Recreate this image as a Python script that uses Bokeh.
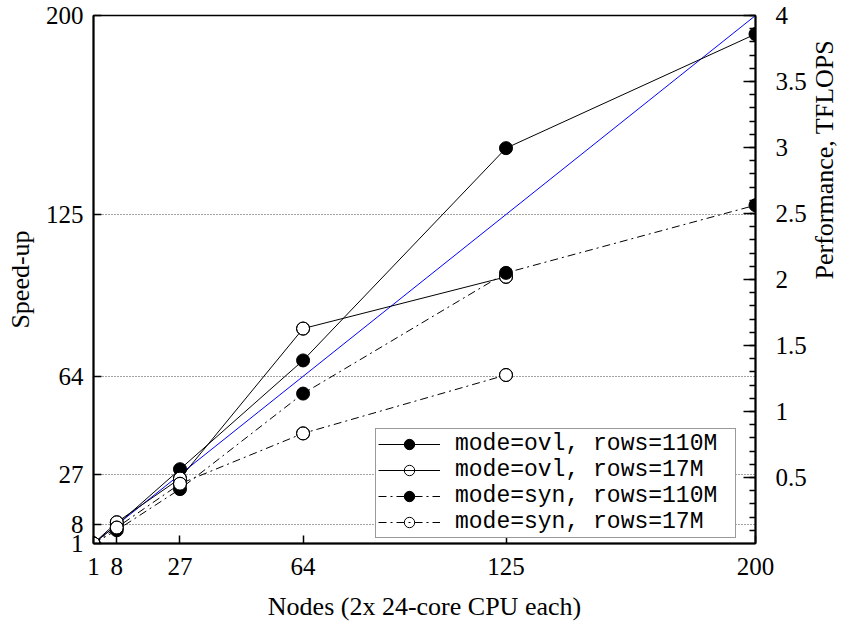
import math
from bokeh.plotting import figure
from bokeh.models import Range1d, LinearAxis, FixedTicker, Legend, LegendItem
from bokeh.embed import file_html
from bokeh.resources import INLINE

# ---- data ----
nodes = [1, 8, 27, 64, 125, 200]
ovl_110m = [1, 8, 29, 70, 150, 193]
nodes_17m = [1, 8, 27, 64, 125]
ovl_17m = [1, 9, 25.5, 82, 101.5]
syn_110m = [1, 6, 21.5, 57.5, 103, 128.5]
syn_17m = [1, 7, 23.5, 42.5, 64.5]
ideal_x = [1, 200]
ideal_y = [1, 200]
tick_values = [1, 8, 27, 64, 125, 200]
perf_ticks = [0.5, 1, 1.5, 2, 2.5, 3, 3.5, 4]
perf_minor = [round(0.1 * i, 1) for i in range(1, 41)]

SERIF = "Liberation Serif"
MONO = "Liberation Mono"
FS = "25px"
FSL = "26px"

p = figure(width=857, height=623, output_backend="svg", toolbar_location=None,
           x_range=Range1d(1, 200), y_range=Range1d(1, 200),
           min_border_left=93, min_border_right=102, min_border_top=15,
           min_border_bottom=80)
p.extra_y_ranges = {"perf": Range1d(0, 4)}

p.outline_line_color = "black"
p.outline_line_width = 1.5
p.background_fill_color = "white"
p.border_fill_color = "white"

p.xgrid.visible = False
p.ygrid.ticker = FixedTicker(ticks=tick_values)
p.ygrid.grid_line_color = "#444444"
p.ygrid.grid_line_dash = "1 2"
p.ygrid.grid_line_width = 1

for ax in (p.xaxis[0], p.yaxis[0]):
    ax.ticker = FixedTicker(ticks=tick_values)
    ax.major_tick_in = 8
    ax.major_tick_out = 0
    ax.minor_tick_in = 0
    ax.minor_tick_out = 0
    ax.axis_line_width = 2
    ax.major_tick_line_width = 1.5
    ax.major_label_text_font = SERIF
    ax.major_label_text_font_size = FS
    ax.major_label_text_color = "black"
    ax.axis_label_text_font = SERIF
    ax.axis_label_text_font_size = FSL
    ax.axis_label_text_font_style = "normal"
    ax.axis_label_text_color = "black"

p.xaxis[0].axis_label = "Nodes (2x 24-core CPU each)"
p.yaxis[0].axis_label = "Speed-up"
p.xaxis[0].major_label_standoff = 14
p.xaxis[0].axis_label_standoff = 14
p.yaxis[0].major_label_standoff = 10
p.yaxis[0].axis_label_standoff = 8

rax = LinearAxis(y_range_name="perf", axis_label="Performance, TFLOPS",
                 ticker=FixedTicker(ticks=perf_ticks, minor_ticks=perf_minor))
rax.major_tick_in = 12
rax.major_tick_out = 0
rax.minor_tick_in = 6
rax.minor_tick_out = 0
rax.axis_line_width = 2
rax.major_tick_line_width = 1.5
rax.minor_tick_line_width = 1.5
rax.major_label_text_font = SERIF
rax.major_label_text_font_size = FS
rax.major_label_text_color = "black"
rax.axis_label_text_font = SERIF
rax.axis_label_text_font_size = FSL
rax.axis_label_text_font_style = "normal"
rax.axis_label_text_color = "black"
rax.major_label_standoff = 20
rax.axis_label_standoff = 15
try:
    rax.axis_label_orientation = math.pi / 2
except Exception:
    pass
p.add_layout(rax, "right")

# ideal line
p.line(ideal_x, ideal_y, line_color="blue", line_width=1)

DD = "8 4 2 4"
series = [
    (nodes, ovl_110m, "solid", True, "mode=ovl, rows=110M"),
    (nodes_17m, ovl_17m, "solid", False, "mode=ovl, rows=17M"),
    (nodes, syn_110m, DD, True, "mode=syn, rows=110M"),
    (nodes_17m, syn_17m, DD, False, "mode=syn, rows=17M"),
]

line_rs = []
for xs, ys, dash, filled, label in series:
    line_rs.append(p.line(xs, ys, line_color="black", line_width=1, line_dash=dash))

items = []
for (xs, ys, dash, filled, label), lr in zip(series, line_rs):
    sr = p.scatter(xs, ys, size=13, marker="circle", line_color="black", line_width=1,
                   fill_color="black" if filled else "white")
    if not filled:
        sr = p.scatter(xs, ys, size=13, marker="circle", line_color="black",
                       line_width=1, fill_alpha=0)
    items.append(LegendItem(label=label, renderers=[lr, sr]))

legend = Legend(items=items, location=(282, 5))
legend.margin = 0
legend.padding = 2
legend.spacing = -7
legend.glyph_width = 62
legend.glyph_height = 26
legend.label_height = 20
legend.label_width = 278
legend.label_standoff = 15
legend.label_text_font = MONO
legend.label_text_font_size = "23px"
legend.label_text_color = "black"
legend.border_line_color = "#333333"
legend.border_line_width = 1.5
legend.background_fill_alpha = 1
p.add_layout(legend, "center")

open("out.html", "w").write(file_html(p, INLINE))
